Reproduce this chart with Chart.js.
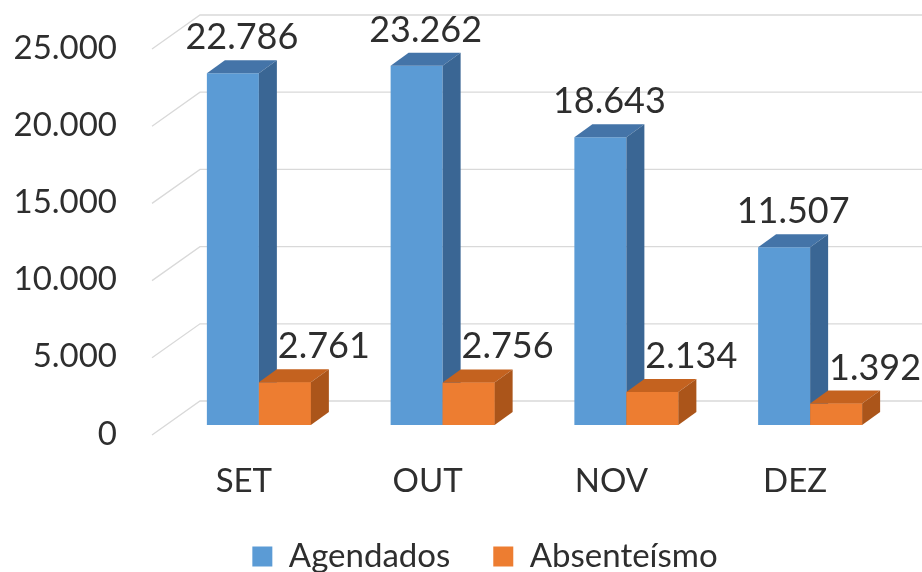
<!DOCTYPE html>
<html>
<head>
<meta charset="utf-8">
<script src="https://cdn.jsdelivr.net/npm/chart.js@4.4.1/dist/chart.umd.min.js"></script>
<style>
  html, body { margin: 0; padding: 0; background: #ffffff; }
  #wrap { width: 922px; height: 572px; position: relative; }
</style>
</head>
<body>
<div id="wrap"><canvas id="c"></canvas></div>
<script>
// ---- data ----
const categories = ['SET', 'OUT', 'NOV', 'DEZ'];
const agendados = [22786, 23262, 18643, 11507];
const absenteismo = [2761, 2756, 2134, 1392];
const yTickValues = [0, 5000, 10000, 15000, 20000, 25000];
const yTickLabels = ['0', '5.000', '10.000', '15.000', '20.000', '25.000'];
const seriesNames = ['Agendados', 'Absenteísmo'];

function fmt(v) {
  return String(v).replace(/\B(?=(\d{3})+(?!\d))/g, '.');
}

const FONT = 'Lato, "Open Sans", sans-serif';
const TEXT = '#2e2e2e';
const GRID = '#d9d9d9';
const DEPTH_X = 18, DEPTH_Y = -13;
const faceColors = [
  { top: '#4474a8', side: '#3a6694' },
  { top: '#c4621f', side: '#ab551a' }
];
const labelDx = [9, 39];

const threeD = {
  id: 'threeD',
  afterLayout(chart) {
    // y tick labels sit in the left margin, right edge at x = 118
    const y = chart.scales.y;
    y.left = 0;
    y.right = 118;
    y.width = 118;
  },
  beforeDatasetsDraw(chart) {
    const ctx = chart.ctx;
    const y = chart.scales.y;
    ctx.save();
    ctx.strokeStyle = GRID;
    ctx.lineWidth = 1.3;
    yTickValues.forEach(v => {
      const p = y.getPixelForValue(v);
      ctx.beginPath();
      ctx.moveTo(152, p + 10);
      ctx.lineTo(200, p - 24);
      ctx.lineTo(chart.width, p - 24);
      ctx.stroke();
    });
    ctx.restore();
  },
  afterDatasetsDraw(chart) {
    const ctx = chart.ctx;
    ctx.save();
    chart.data.datasets.forEach((ds, di) => {
      const meta = chart.getDatasetMeta(di);
      const cols = faceColors[di];
      meta.data.forEach(bar => {
        if (di > 0) bar.draw(ctx);
        const l = bar.x - bar.width / 2, r = bar.x + bar.width / 2;
        const t = bar.y, b = bar.base;
        ctx.fillStyle = cols.top;
        ctx.beginPath();
        ctx.moveTo(l, t);
        ctx.lineTo(l + DEPTH_X, t + DEPTH_Y);
        ctx.lineTo(r + DEPTH_X, t + DEPTH_Y);
        ctx.lineTo(r, t);
        ctx.closePath();
        ctx.fill();
        ctx.fillStyle = cols.side;
        ctx.beginPath();
        ctx.moveTo(r, t);
        ctx.lineTo(r + DEPTH_X, t + DEPTH_Y);
        ctx.lineTo(r + DEPTH_X, b + DEPTH_Y);
        ctx.lineTo(r, b);
        ctx.closePath();
        ctx.fill();
      });
    });
    ctx.restore();
  },
  afterDraw(chart) {
    const ctx = chart.ctx;
    ctx.save();
    ctx.font = '36px ' + FONT;
    ctx.fillStyle = TEXT;
    ctx.textAlign = 'center';
    ctx.textBaseline = 'alphabetic';
    chart.data.datasets.forEach((ds, di) => {
      const meta = chart.getDatasetMeta(di);
      meta.data.forEach((bar, i) => {
        ctx.fillText(fmt(ds.data[i]), bar.x + labelDx[di], bar.y - 24);
      });
    });
    ctx.restore();
  }
};

new Chart(document.getElementById('c'), {
  type: 'bar',
  data: {
    labels: categories,
    datasets: [
      { label: seriesNames[0], data: agendados, backgroundColor: '#5b9bd5',
        categoryPercentage: 0.566, barPercentage: 1.0 },
      { label: seriesNames[1], data: absenteismo, backgroundColor: '#ed7d31',
        categoryPercentage: 0.566, barPercentage: 1.0 }
    ]
  },
  options: {
    responsive: true,
    maintainAspectRatio: false,
    animation: false,
    layout: { padding: { left: 48, right: 0, top: 39, bottom: 0 } },
    plugins: {
      tooltip: { enabled: false },
      legend: {
        position: 'bottom',
        maxHeight: 75,
        labels: {
          boxWidth: 20, boxHeight: 20, padding: 43,
          color: TEXT,
          font: { family: FONT, size: 33 }
        }
      }
    },
    scales: {
      x: {
        grid: { display: false, drawTicks: false },
        border: { display: false },
        ticks: {
          color: TEXT, font: { family: FONT, size: 33 },
          padding: 37, labelOffset: -15, maxRotation: 0
        },
        afterFit(s) { s.height = 72; }
      },
      y: {
        min: 0, max: 25000,
        grid: { display: false, drawTicks: false },
        border: { display: false },
        afterBuildTicks(s) { s.ticks = yTickValues.map(v => ({ value: v })); },
        ticks: {
          color: TEXT, font: { family: FONT, size: 33 },
          padding: 1, labelOffset: 9,
          callback: (v) => yTickLabels[yTickValues.indexOf(v)]
        },
        afterFit(s) { s.width = 119; }
      },
      yRight: {
        position: 'right',
        display: true,
        min: 0, max: 25000,
        grid: { display: false, drawTicks: false },
        border: { display: false },
        ticks: { display: false },
        afterFit(s) { s.width = 20; }
      }
    }
  },
  plugins: [threeD]
});
</script>
</body>
</html>
